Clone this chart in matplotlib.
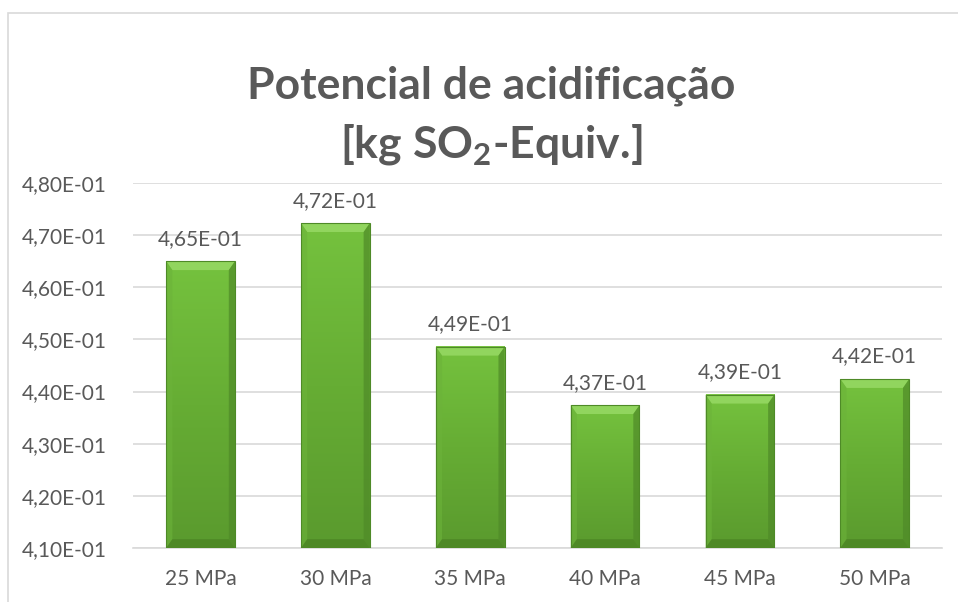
import numpy as np
import matplotlib.pyplot as plt
from matplotlib.colors import LinearSegmentedColormap
from matplotlib.patches import Polygon, Rectangle

plt.rcParams['font.family'] = ['Lato', 'DejaVu Sans']

categories = ["25 MPa", "30 MPa", "35 MPa", "40 MPa", "45 MPa", "50 MPa"]
values = [0.4650, 0.4723, 0.4486, 0.4374, 0.4394, 0.4424]
yticks = [0.41, 0.42, 0.43, 0.44, 0.45, 0.46, 0.47, 0.48]

text_grey = "#595959"


def sci_comma(v):
    return ("%.2E" % v).replace(".", ",")


fig = plt.figure(figsize=(9.58, 6.02), dpi=100)
ax = fig.add_axes([0.139, 0.0897, 0.8445, 0.6063])

# chart frame
fig.patches.append(Rectangle((0.0085, -0.05), 1.2, 1.0283, transform=fig.transFigure,
                             fill=False, edgecolor="#d9d9d9", linewidth=1.2))

x = np.arange(len(categories))
bars = ax.bar(x, values, width=0.51, bottom=0, color="none", zorder=3)

ax.set_ylim(0.41, 0.48)
ax.set_xlim(-0.5, len(categories) - 0.5)

green = LinearSegmentedColormap.from_list("g", ["#5a9a2e", "#66ad34", "#75c23e"])
grad = np.linspace(0, 1, 256).reshape(-1, 1)

for b in bars:
    x0 = b.get_x()
    w = b.get_width()
    top = b.get_height()
    bot = 0.41
    ax.imshow(grad, cmap=green, origin="lower", aspect="auto",
              extent=(x0, x0 + w, bot, top), zorder=3, interpolation="bicubic")
    # bevel edges
    dx = w * 0.09
    dy = 0.0017
    pts = dict(
        top=[(x0, top), (x0 + w, top), (x0 + w - dx, top - dy), (x0 + dx, top - dy)],
        left=[(x0, top), (x0 + dx, top - dy), (x0 + dx, bot + dy), (x0, bot)],
        right=[(x0 + w, top), (x0 + w - dx, top - dy), (x0 + w - dx, bot + dy), (x0 + w, bot)],
        bottom=[(x0, bot), (x0 + dx, bot + dy), (x0 + w - dx, bot + dy), (x0 + w, bot)],
    )
    cols = dict(top="#95d862", left="#6cb33a", right="#4f8a28", bottom="#4a8224")
    alphas = dict(top=0.9, left=0.6, right=0.7, bottom=0.7)
    for k, p in pts.items():
        ax.add_patch(Polygon(p, closed=True, facecolor=cols[k], edgecolor="none",
                             alpha=alphas[k], zorder=4))
    ax.add_patch(Rectangle((x0, bot), w, top - bot, fill=False,
                           edgecolor="#4e8a27", linewidth=0.8, zorder=5))
    ax.text(x0 + w / 2, top + 0.0024, sci_comma(top), ha="center", va="bottom",
            fontsize=15, color=text_grey, zorder=6)

ax.set_yticks(yticks)
ax.set_yticklabels([sci_comma(t) for t in yticks])
ax.set_xticks(x)
ax.set_xticklabels(categories)
ax.tick_params(axis="both", length=0, labelsize=15, labelcolor=text_grey)
ax.tick_params(axis="x", pad=15)
ax.tick_params(axis="y", pad=19)
ax.yaxis.grid(True, color="#d9d9d9", linewidth=1.2, zorder=0)
ax.set_axisbelow(True)
for s in ["top", "right", "left"]:
    ax.spines[s].set_visible(False)
ax.spines["bottom"].set_color("#d9d9d9")
ax.spines["bottom"].set_linewidth(1.2)

fig.text(0.513, 0.857, "Potencial de acidificação", ha="center", va="center",
         fontsize=32, fontweight="bold", color=text_grey)
fig.text(0.513, 0.76, "[kg SO$_\\mathregular{2}$-Equiv.]", ha="center", va="center",
         fontsize=32, fontweight="bold", color=text_grey)

fig.savefig("out.png", dpi=100)
